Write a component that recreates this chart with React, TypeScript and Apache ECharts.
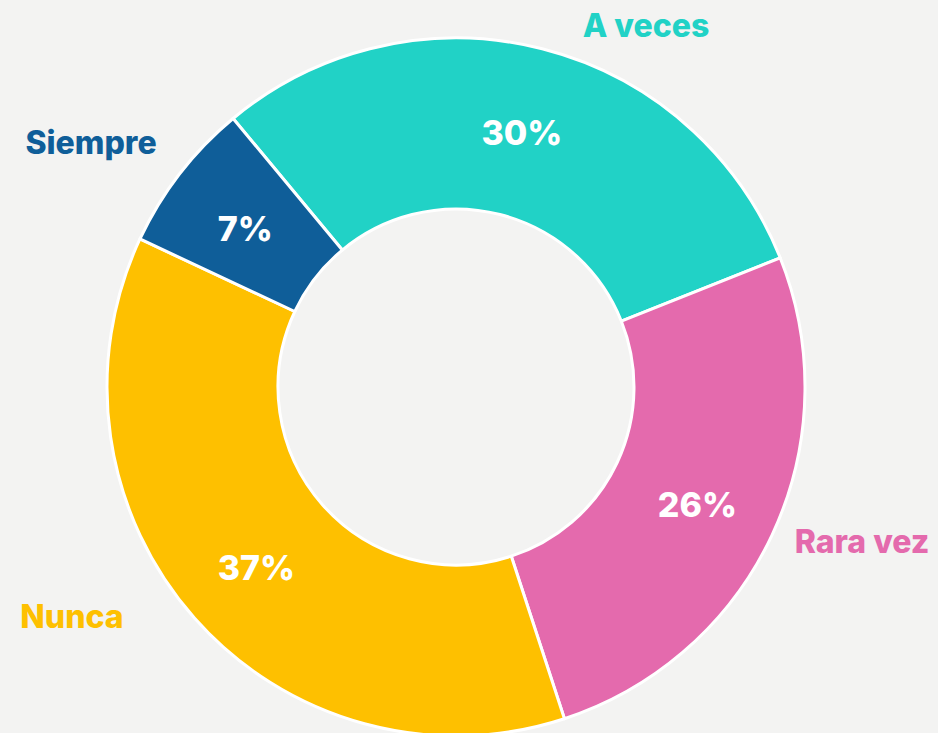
import React, { useEffect, useRef } from "react";
import * as echarts from "echarts";

const categories = ["A veces", "Rara vez", "Nunca", "Siempre"];
const values = [30, 26, 37, 7];
const colors = ["#21d2c6", "#e46aad", "#fec000", "#0f5e99"];
// outer category label anchor points (label layout)
const nameLabelPos: [number, number][] = [
  [646, 25],
  [862, 541],
  [72, 616],
  [91, 142],
];

export default function App() {
  const ref = useRef<HTMLDivElement>(null);
  useEffect(() => {
    document.body.style.margin = "0";
    const chart = echarts.init(ref.current!, undefined, { renderer: "svg" });
    const data = categories.map((c, i) => ({
      name: c,
      value: values[i],
      itemStyle: { color: colors[i] },
    }));
    const font = "Inter, 'Open Sans', sans-serif";
    chart.setOption({
      animation: false,
      backgroundColor: "#f3f3f2",
      series: [
        {
          type: "pie",
          center: [456, 387],
          radius: [178, 349],
          startAngle: 129.7,
          clockwise: true,
          data,
          itemStyle: { borderColor: "#ffffff", borderWidth: 3 },
          label: {
            show: true,
            position: "inside",
            formatter: (p: any) => p.value + "%",
            color: "#ffffff",
            fontFamily: font,
            fontWeight: 800,
            fontSize: 34,
            offset: [0, 4],
          },
          labelLine: { show: false },
          emphasis: { disabled: true },
        },
        {
          type: "pie",
          center: [456, 387],
          radius: [178, 349],
          startAngle: 129.7,
          clockwise: true,
          silent: true,
          data: categories.map((c, i) => ({
            name: c,
            value: values[i],
            itemStyle: { color: "transparent" },
            label: {
              color: colors[i],
              fontSize: 32,
              fontWeight: 800,
              fontFamily: font,
              overflow: "none",
              width: 220,
            },
          })),
          itemStyle: { borderWidth: 0 },
          label: {
            show: true,
            position: "outside",
            formatter: "{b}",
            fontFamily: font,
            fontWeight: 800,
            fontSize: 32,
            overflow: "none",
          },
          labelLine: { show: false },
          labelLayout: (p: any) => ({
            x: nameLabelPos[p.dataIndex][0],
            y: nameLabelPos[p.dataIndex][1],
            align: "center",
            verticalAlign: "middle",
            hideOverlap: false,
          }),
          emphasis: { disabled: true },
        },
      ],
    });
    return () => chart.dispose();
  }, []);
  return <div ref={ref} style={{ width: 938, height: 733 }} />;
}
